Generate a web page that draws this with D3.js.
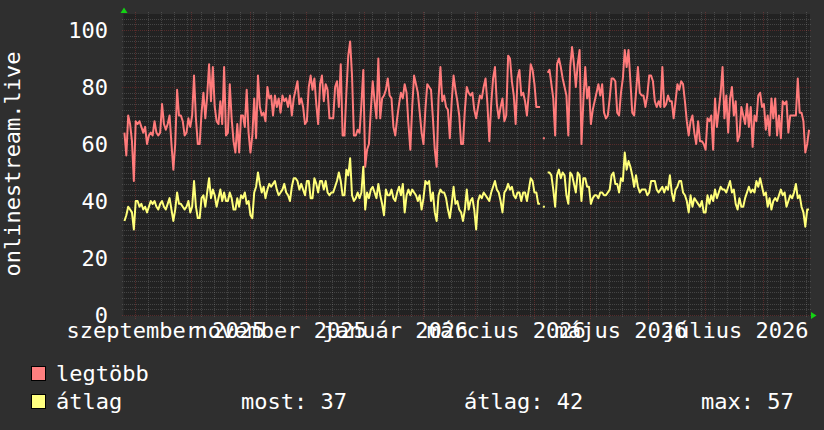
<!DOCTYPE html>
<html>
<head>
<meta charset="utf-8">
<script src="https://cdn.jsdelivr.net/npm/d3@7"></script>
<style>
  html, body { margin: 0; padding: 0; background: #2f2f2f; }
  svg { display: block; }
  text { font-family: "DejaVu Sans Mono", monospace; fill: #ffffff; }
</style>
</head>
<body>
<div id="chart"></div>
<script>
// daily samples, first one on 2025-08-26
const startDate = new Date(2025, 7, 26, 12);

// "legtöbb" (daily max)
const maxValues = [
  64,56,70,67,61,47,68,67,68,66,64,66,60,63,64,63,68,64,63,64,74,67,65,67,70,60,51,60,79,70,70,68,63,64,69,66,70,84,69,60,60,71,78,69,77,88,75,87,73,68,67,75,67,87,63,64,81,69,61,57,67,57,
  70,70,66,79,64,57,63,76,62,84,73,70,71,68,80,76,77,70,77,73,76,71,77,75,76,73,77,70,76,79,82,74,76,73,67,68,80,84,79,83,74,67,81,84,75,81,79,69,69,69,80,82,73,88,63,63,78,91,96,84,63,
  63,65,64,74,86,52,58,60,72,82,75,69,90,69,76,77,79,83,77,76,66,63,69,74,78,76,81,78,67,58,73,84,81,78,71,64,60,72,81,80,79,69,58,52,76,87,75,77,73,72,62,75,84,79,75,70,60,60,72,80,78,
  77,78,72,69,73,77,76,80,83,74,61,74,83,87,74,69,73,76,68,70,91,90,82,77,67,83,86,77,78,75,70,78,88,86,81,73,73,73,null,62,null,85,86,81,76,63,88,90,87,83,80,77,63,87,94,88,80,88,93,60,75,
  87,76,80,67,72,75,78,81,77,81,71,69,70,76,83,83,82,71,70,78,83,93,87,93,82,71,70,78,87,78,77,77,73,77,84,84,82,75,73,75,73,87,73,74,77,75,75,69,75,81,79,82,81,75,68,63,68,70,64,60,68,
  61,61,60,58,69,68,70,58,76,66,72,78,87,69,77,64,76,80,70,75,61,63,73,70,67,74,66,73,59,70,68,77,78,73,74,65,70,63,76,69,76,63,70,62,75,74,75,64,70,70,70,70,83,71,71,68,57,60,65
];

// "átlag" (daily average)
const avgValues = [
  33,35,38,37,36,30,40,40,38,39,37,38,36,38,40,39,40,38,37,39,40,38,37,39,41,37,33,37,43,39,39,38,37,38,40,36,38,47,38,34,34,41,42,38,43,48,41,44,42,38,41,44,40,43,40,40,43,41,37,37,41,38,
  42,41,43,39,40,35,34,43,45,50,46,43,45,41,44,46,45,46,47,44,42,43,44,46,43,42,40,45,48,48,47,44,46,44,42,47,47,41,41,48,46,43,47,47,44,47,43,42,43,43,45,47,50,47,42,42,51,49,55,42,40,
  41,43,41,43,52,37,43,41,44,45,43,41,46,42,39,35,44,42,42,44,41,40,43,45,42,46,36,42,44,42,44,43,42,40,42,37,41,47,46,47,40,43,36,33,42,44,43,43,41,37,34,39,45,39,40,37,36,33,37,44,37,
  40,41,37,30,40,42,41,43,42,41,40,43,45,47,44,43,40,36,43,44,46,44,45,42,41,43,43,40,43,43,40,44,48,47,43,43,39,39,null,38,null,50,50,49,44,38,49,51,48,50,49,42,39,50,49,46,43,50,49,40,48,
  48,45,45,39,41,42,42,41,43,43,42,42,43,44,49,50,46,46,43,48,47,57,51,54,52,49,45,49,45,43,44,44,44,42,43,47,47,47,44,43,44,45,43,45,44,49,43,40,44,45,47,47,43,42,40,36,42,38,41,40,39,
  38,40,36,36,42,39,42,40,44,41,43,45,44,44,43,45,47,43,44,39,37,41,38,38,41,43,45,43,44,43,47,45,48,45,42,43,38,41,37,40,41,40,42,44,42,43,38,40,42,41,43,46,41,42,38,36,31,37,37
];

const yTicks = [0, 20, 40, 60, 80, 100];
const monthNames = ['január', 'február', 'március', 'április', 'május', 'június',
  'július', 'augusztus', 'szeptember', 'október', 'november', 'december'];
const yLabel = 'onlinestream.live';
const seriesNames = ['legtöbb', 'átlag'];
const statLabels = ['most', 'átlag', 'max'];
const statValues = [37, 42, 57];

const width = 824, height = 430;
const plot = { left: 123.5, right: 810, top: 14, bottom: 316 };
const colors = { max: '#ff7b7b', avg: '#ffff7a', plotBg: '#222222', arrow: '#14d214' };
const fontSize = '22px';

const huLocale = d3.timeFormatLocale({
  dateTime: '%Y. %B %-d. %X', date: '%Y. %m. %d.', time: '%H:%M:%S',
  periods: ['de.', 'du.'],
  days: ['vasárnap', 'hétfő', 'kedd', 'szerda', 'csütörtök', 'péntek', 'szombat'],
  shortDays: ['V', 'H', 'K', 'Sze', 'Cs', 'P', 'Szo'],
  months: monthNames,
  shortMonths: monthNames.map(m => m.slice(0, 3))
});
const monthFormat = huLocale.format('%B %Y');

const days = maxValues.map((_, i) => d3.timeDay.offset(startDate, i));
const maxData = days.map((d, i) => ({ date: d, v: maxValues[i] }));
const avgData = days.map((d, i) => ({ date: d, v: avgValues[i] }));

const x = d3.scaleTime()
  .domain([new Date(2025, 7, 26), new Date(2026, 7, 26)])
  .range([plot.left, plot.right]);

const y = d3.scaleLinear()
  .domain([0, 100])
  .range([315, 30]);

const svg = d3.select('#chart')
  .append('svg')
  .attr('width', width)
  .attr('height', height);

svg.append('rect')
  .attr('width', width)
  .attr('height', height)
  .attr('fill', '#2f2f2f');

// plot background
svg.append('rect')
  .attr('x', plot.left)
  .attr('y', plot.top)
  .attr('width', plot.right - plot.left)
  .attr('height', plot.bottom - plot.top)
  .attr('fill', colors.plotBg);

const grid = svg.append('g').attr('shape-rendering', 'crispEdges');
const minorStyle = sel => sel.attr('stroke', '#c0c0c0').attr('stroke-opacity', 0.22).attr('stroke-dasharray', '1,1');
const majorStyle = sel => sel.attr('stroke', '#ff4a4a').attr('stroke-opacity', 0.24).attr('stroke-dasharray', '1,1');

// minor horizontal grid every 2
const yTop = y.invert(plot.top);
grid.selectAll('.hminor')
  .data(d3.range(2, yTop, 2).filter(v => v % 20 !== 0))
  .enter().append('line')
  .attr('x1', plot.left - 2).attr('x2', plot.right + 2)
  .attr('y1', d => Math.round(y(d)) + 0.5).attr('y2', d => Math.round(y(d)) + 0.5)
  .call(minorStyle);

// minor vertical grid, weekly (Mondays)
grid.selectAll('.vminor')
  .data(d3.timeMonday.range(x.domain()[0], x.domain()[1]).filter(d => d.getDate() !== 1))
  .enter().append('line')
  .attr('x1', d => Math.round(x(d)) + 0.5).attr('x2', d => Math.round(x(d)) + 0.5)
  .attr('y1', plot.top - 2).attr('y2', plot.bottom + 2)
  .call(minorStyle);

// major horizontal grid
grid.selectAll('.hmajor')
  .data(yTicks)
  .enter().append('line')
  .attr('x1', plot.left - 2).attr('x2', plot.right + 2)
  .attr('y1', d => Math.round(y(d)) + 0.5).attr('y2', d => Math.round(y(d)) + 0.5)
  .call(majorStyle);

// major vertical grid, monthly
grid.selectAll('.vmajor')
  .data(d3.timeMonth.range(x.domain()[0], x.domain()[1]))
  .enter().append('line')
  .attr('x1', d => Math.round(x(d)) + 0.5).attr('x2', d => Math.round(x(d)) + 0.5)
  .attr('y1', plot.top - 2).attr('y2', plot.bottom + 3)
  .call(majorStyle);

// y tick labels
svg.append('g')
  .selectAll('text')
  .data(yTicks)
  .enter().append('text')
  .attr('x', 108)
  .attr('y', d => y(d))
  .attr('dy', '0.35em')
  .attr('text-anchor', 'end')
  .style('font-size', fontSize)
  .text(d => d);

// x month labels, every second month, centred about mid-month
svg.append('g')
  .selectAll('text')
  .data(d3.timeMonth.every(2).range(x.domain()[0], x.domain()[1]))
  .enter().append('text')
  .attr('x', d => x(d3.timeHour.offset(d, 396)))
  .attr('y', 338)
  .attr('text-anchor', 'middle')
  .style('font-size', fontSize)
  .text(d => monthFormat(d));

// y axis title
svg.append('text')
  .attr('transform', 'translate(20,164) rotate(-90)')
  .attr('text-anchor', 'middle')
  .style('font-size', fontSize)
  .text(yLabel);

// arrows
svg.append('path')
  .attr('d', `M${plot.left - 3},13 L${plot.left + 0.5},7.5 L${plot.left + 4},13 Z`)
  .attr('fill', colors.arrow);
svg.append('path')
  .attr('d', `M${plot.right + 1},312 L${plot.right + 6.5},315.5 L${plot.right + 1},319 Z`)
  .attr('fill', colors.arrow);

// series lines
const line = d3.line()
  .defined(d => d.v !== null)
  .x(d => x(d.date))
  .y(d => y(d.v));

const isolated = data => data.filter((d, i) => d.v !== null &&
  (i === 0 || data[i - 1].v === null) && (i === data.length - 1 || data[i + 1].v === null));

[[maxData, colors.max], [avgData, colors.avg]].forEach(([data, color]) => {
  svg.append('path')
    .datum(data)
    .attr('fill', 'none')
    .attr('stroke', color)
    .attr('stroke-width', 2)
    .attr('stroke-linejoin', 'round')
    .attr('d', line);

  svg.selectAll(null)
    .data(isolated(data))
    .enter().append('rect')
    .attr('x', d => x(d.date) - 1)
    .attr('y', d => y(d.v) - 1)
    .attr('width', 2)
    .attr('height', 2)
    .attr('fill', color);
});

// legend
const legend = svg.append('g');
[[seriesNames[0], '#ff7f7f', 381], [seriesNames[1], '#ffff7f', 409]].forEach(([name, fill, base]) => {
  legend.append('rect')
    .attr('x', 31.5)
    .attr('y', base - 14.5)
    .attr('width', 14)
    .attr('height', 14)
    .attr('fill', fill)
    .attr('stroke', '#000');
  legend.append('text')
    .attr('x', 56)
    .attr('y', base)
    .style('font-size', fontSize)
    .text(name);
});

const statX = [241, 464, 701];
statLabels.forEach((lab, i) => {
  legend.append('text')
    .attr('x', statX[i])
    .attr('y', 409)
    .style('font-size', fontSize)
    .text(`${lab}: ${statValues[i]}`);
});
</script>
</body>
</html>
